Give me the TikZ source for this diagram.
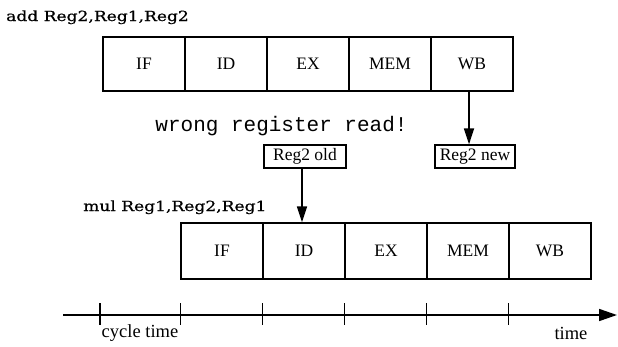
\documentclass[tikz,border=0pt]{standalone}
\usepackage{fontspec}
\setmainfont{Liberation Serif}
\newfontfamily\instrfont[FakeStretch=1.22,FakeBold=0.6]{DejaVu Serif}
\newfontfamily\monofont{Liberation Mono}
\usetikzlibrary{arrows.meta}
\tikzset{
  stage/.style={draw, line width=1.3pt, inner sep=0pt, minimum width=82pt, font=\fontsize{17.5}{20}\selectfont},
  toprow/.style={stage, minimum height=54pt},
  botrow/.style={stage, minimum height=56pt},
  regbox/.style={draw, line width=1.2pt, inner sep=0pt, minimum height=23pt, font=\fontsize{17.5}{20}\selectfont},
  instr/.style={inner sep=0pt, anchor=base west, font=\instrfont\fontsize{14}{16}\selectfont},
  arr/.style={line width=1.7pt, -{Triangle[length=16pt,width=10pt]}},
  tick/.style={line width=1.6pt},
  lbl/.style={inner sep=0pt, font=\fontsize{18.5}{21}\selectfont}
}
\begin{document}
\begin{tikzpicture}[x=1pt,y=-1pt]
\useasboundingbox (0,0) rectangle (618,346);
% instruction labels
\node[instr] (addlbl) at (6,21) {add Reg2,Reg1,Reg2};
\node[instr] (mullbl) at (83,211) {mul Reg1,Reg2,Reg1};
% top pipeline
\node[toprow] (IFa)  at (144,64) {IF};
\node[toprow] (IDa)  at (226,64) {ID};
\node[toprow] (EXa)  at (308,64) {EX};
\node[toprow] (MEMa) at (390,64) {MEM};
\node[toprow] (WBa)  at (472,64) {WB};
% bottom pipeline
\node[botrow] (IFb)  at (222,251) {IF};
\node[botrow] (IDb)  at (304,251) {ID};
\node[botrow] (EXb)  at (386,251) {EX};
\node[botrow] (MEMb) at (468,251) {MEM};
\node[botrow] (WBb)  at (550,251) {WB};
% message
\node[inner sep=0pt, font=\monofont\fontsize{21}{24}\selectfont] (msg) at (281.5,126) {wrong register read!};
% register boxes
\node[regbox, minimum width=82pt] (regold) at (305,156.5) {Reg2 old};
\node[regbox, minimum width=80pt] (regnew) at (475,156.5) {Reg2 new};
% arrows
\draw[arr] ([xshift=-3pt]WBa.south) -- ([xshift=-3pt]WBa.south |- regnew.north);
\draw[arr] ([xshift=-3pt]regold.south) -- ([xshift=-3pt]regold.south |- IDb.north);
% time axis
\coordinate (axstart) at (63,315);
\coordinate (axend) at (617,315);
\draw[line width=1.6pt, -{Triangle[length=18pt,width=12pt]}] (axstart) -- (axend);
\coordinate (t0) at (100,315);
\draw[tick] ([yshift=12pt]t0) -- ([yshift=-10pt]t0);
\foreach \n in {IFb,IDb,EXb,MEMb,WBb} {
  \coordinate (tk\n) at (\n.south west |- axstart);
  \draw[tick] ([yshift=12pt]tk\n) -- ([yshift=-10pt]tk\n);
}
\node[lbl] (cyc) at (140,333) {cycle time};
\node[lbl] (tm) at (571,333) {time};
\end{tikzpicture}
\end{document}
